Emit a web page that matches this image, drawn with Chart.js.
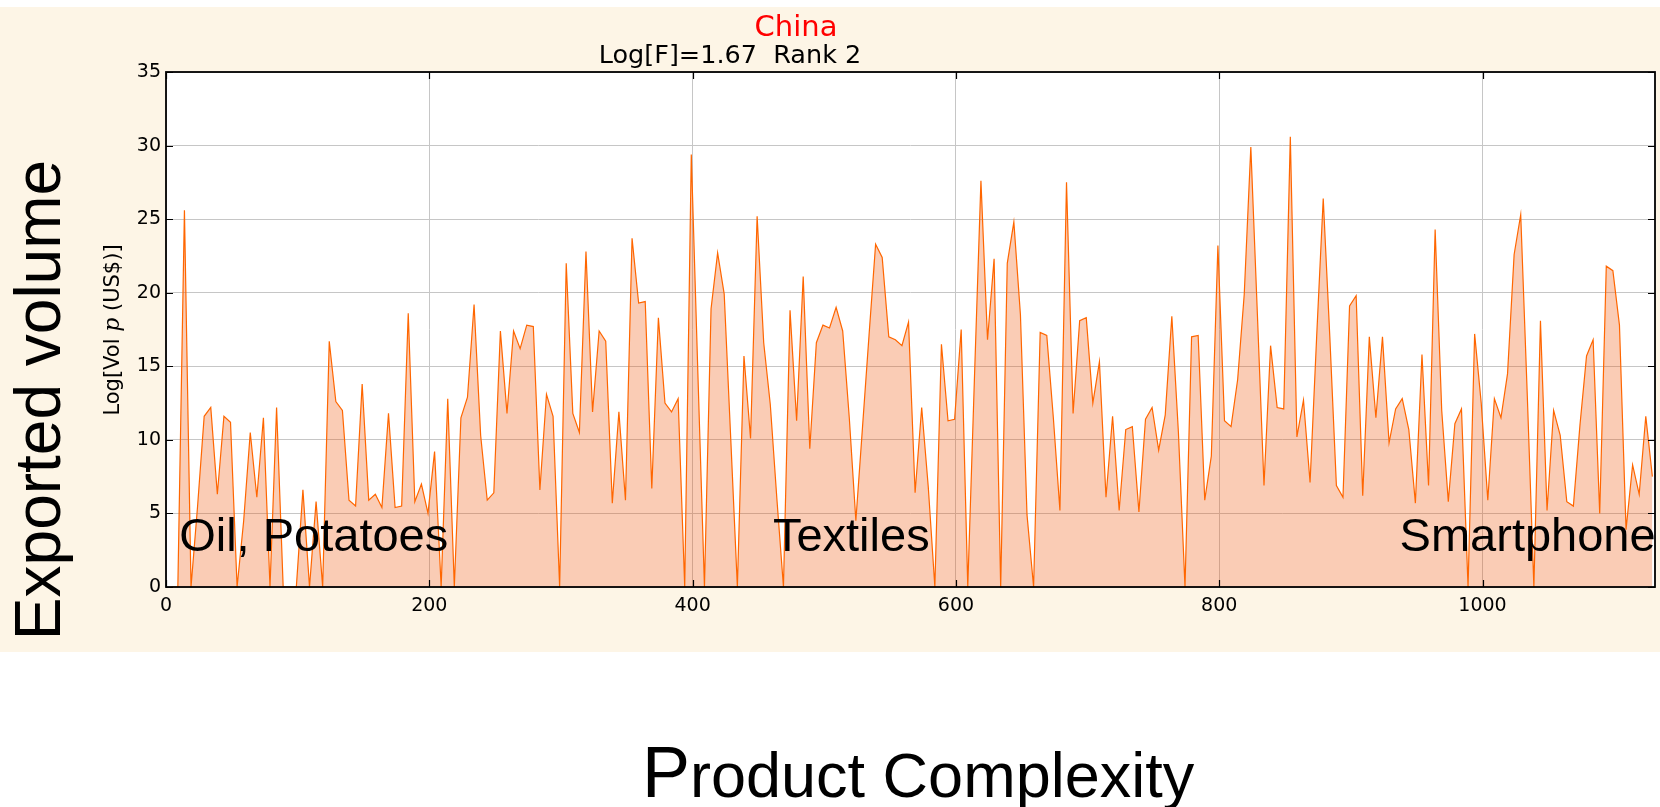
<!DOCTYPE html>
<html>
<head>
<meta charset="utf-8">
<script src="https://cdn.jsdelivr.net/npm/chart.js@4/dist/chart.umd.min.js"></script>
<style>
  html, body { margin: 0; padding: 0; background: #ffffff; }
  #wrap { width: 1660px; height: 807px; position: relative; }
  canvas { display: block; }
</style>
</head>
<body>
<div id="wrap"><canvas id="chart" width="1660" height="807"></canvas></div>
<script>
// Product complexity rank of each bin (x) and log export volume (y)
const complexity = [
  4, 9, 14, 19, 24, 29, 34, 39, 44, 49,
  54, 59, 64, 69, 74, 79, 84, 89, 94, 99,
  104, 109, 114, 119, 124, 129, 134, 139, 144, 149,
  154, 159, 164, 169, 174, 179, 184, 189, 194, 199,
  204, 209, 214, 219, 224, 229, 234, 239, 244, 249,
  254, 259, 264, 269, 274, 279, 284, 289, 294, 299,
  304, 309, 314, 319, 324, 329, 334, 339, 344, 349,
  354, 359, 364, 369, 374, 379, 384, 389, 394, 399,
  404, 409, 414, 419, 424, 429, 434, 439, 444, 449,
  454, 459, 464, 469, 474, 479, 484, 489, 494, 499,
  504, 509, 514, 519, 524, 529, 534, 539, 544, 549,
  554, 559, 564, 569, 574, 579, 584, 589, 594, 599,
  604, 609, 614, 619, 624, 629, 634, 639, 644, 649,
  654, 659, 664, 669, 674, 679, 684, 689, 694, 699,
  704, 709, 714, 719, 724, 729, 734, 739, 744, 749,
  754, 759, 764, 769, 774, 779, 784, 789, 794, 799,
  804, 809, 814, 819, 824, 829, 834, 839, 844, 849,
  854, 859, 864, 869, 874, 879, 884, 889, 894, 899,
  904, 909, 914, 919, 924, 929, 934, 939, 944, 949,
  954, 959, 964, 969, 974, 979, 984, 989, 994, 999,
  1004, 1009, 1014, 1019, 1024, 1029, 1034, 1039, 1044, 1049,
  1054, 1059, 1064, 1069, 1074, 1079, 1084, 1089, 1094, 1099,
  1104, 1109, 1114, 1119, 1124, 1129
];

const logVolume = [
  0, 0, 25.6, 0, 5.5, 11.6, 12.2, 6.3, 11.6, 11.2,
  0, 4.5, 10.5, 6.1, 11.5, 0, 12.2, 0, 0, 0,
  6.6, 0, 5.8, 0, 16.7, 12.6, 12.0, 5.9, 5.5, 13.8,
  5.9, 6.3, 5.4, 11.8, 5.4, 5.5, 18.6, 5.8, 7.0, 5.0,
  9.2, 0, 12.8, 0, 11.5, 12.9, 19.2, 10.3, 5.9, 6.4,
  17.4, 11.8, 17.4, 16.2, 17.8, 17.7, 6.6, 13.1, 11.6, 0,
  22.0, 11.8, 10.5, 22.8, 11.9, 17.4, 16.7, 5.7, 11.9, 5.9,
  23.7, 19.3, 19.4, 6.7, 18.3, 12.5, 11.9, 12.8, 0, 29.4,
  14.5, 0, 18.9, 22.7, 19.9, 10.0, 0, 15.7, 10.1, 25.2,
  16.6, 12.4, 6.0, 0, 18.8, 11.3, 21.1, 9.4, 16.6, 17.8,
  17.6, 19.0, 17.4, 11.5, 4.5, 10.8, 17.1, 23.3, 22.4, 17.0,
  16.8, 16.4, 18.0, 6.4, 12.2, 6.8, 0, 16.5, 11.3, 11.4,
  17.5, 0, 14.0, 27.6, 16.8, 22.3, 0, 22.0, 24.8, 18.5,
  4.9, 0, 17.3, 17.1, 11.5, 5.2, 27.5, 11.8, 18.1, 18.3,
  12.5, 15.3, 6.1, 11.6, 5.2, 10.7, 10.9, 5.1, 11.4, 12.2,
  9.3, 11.7, 18.4, 10.5, 0, 17.0, 17.1, 5.9, 8.9, 23.2,
  11.3, 10.9, 14.1, 19.9, 29.9, 18.5, 6.9, 16.4, 12.2, 12.1,
  30.6, 10.2, 12.7, 7.1, 17.0, 26.4, 17.0, 6.9, 6.1, 19.1,
  19.8, 6.2, 17.0, 11.5, 17.0, 9.8, 12.1, 12.8, 10.7, 5.7,
  15.8, 6.9, 24.3, 12.0, 5.8, 11.1, 12.1, 0, 17.2, 12.5,
  5.9, 12.8, 11.5, 14.5, 22.6, 25.3, 13.0, 0, 18.1, 5.2,
  12.0, 10.3, 5.8, 5.5, 11.0, 15.7, 16.8, 5.0, 21.8, 21.5,
  17.8, 3.9, 8.3, 6.3, 11.6, 7.5
];

const xTickValues = [0, 200, 400, 600, 800, 1000];
const yTickValues = [0, 5, 10, 15, 20, 25, 30, 35];

const countryName = 'China';
const fitnessLine = 'Log[F]=1.67  Rank 2';
const sectorLabels = ['Oil, Potatoes', 'Textiles', 'Smartphone'];
const sectorAnchors = [10, 461, 937];   // complexity value where each label starts

const LINE_COLOR = 'rgb(255, 102, 0)';
const FILL_COLOR = 'rgba(240, 86, 10, 0.3)';
const GRID_COLOR = '#c6c6c6';
const PAPER = '#fdf5e6';

// Backgrounds, frame, inward tick marks and all free text
const decorations = {
  id: 'decorations',
  beforeDraw(chart) {
    const { ctx, chartArea: a } = chart;
    ctx.save();
    ctx.fillStyle = '#ffffff';
    ctx.fillRect(0, 0, chart.width, chart.height);
    ctx.fillStyle = PAPER;
    ctx.fillRect(0, 7, chart.width, 645);
    ctx.fillStyle = '#ffffff';
    ctx.fillRect(a.left, a.top, a.right - a.left, a.bottom - a.top);
    ctx.restore();
  },
  afterDraw(chart) {
    const { ctx, chartArea: a, scales } = chart;
    ctx.save();

    // sector annotations inside the plot
    ctx.fillStyle = '#000';
    ctx.font = '47px "Liberation Sans", Arial, sans-serif';
    ctx.textBaseline = 'alphabetic';
    ctx.textAlign = 'left';
    sectorLabels.forEach((txt, i) => {
      ctx.fillText(txt, scales.x.getPixelForValue(sectorAnchors[i]), 551);
    });

    // inward tick marks on all four sides
    ctx.strokeStyle = '#000';
    ctx.lineWidth = 1.2;
    const tl = 7;
    ctx.beginPath();
    yTickValues.forEach(v => {
      const py = Math.round(scales.y.getPixelForValue(v)) + 0.5;
      ctx.moveTo(a.left, py); ctx.lineTo(a.left + tl, py);
      ctx.moveTo(a.right, py); ctx.lineTo(a.right - tl, py);
    });
    xTickValues.forEach(v => {
      const px = Math.round(scales.x.getPixelForValue(v)) + 0.5;
      ctx.moveTo(px, a.bottom); ctx.lineTo(px, a.bottom - tl);
      ctx.moveTo(px, a.top); ctx.lineTo(px, a.top + tl);
    });
    ctx.stroke();

    // axes frame
    ctx.lineWidth = 1.8;
    ctx.strokeRect(a.left, a.top, a.right - a.left, a.bottom - a.top);

    // titles
    ctx.textAlign = 'center';
    ctx.fillStyle = '#ff0000';
    ctx.font = '29px "DejaVu Sans", sans-serif';
    ctx.fillText(countryName, 796, 36);
    ctx.fillStyle = '#000';
    ctx.font = '25.5px "DejaVu Sans", sans-serif';
    ctx.fillText(fitnessLine, 730, 63);

    // y axis unit label, with the math-italic p
    ctx.save();
    ctx.translate(119, 330);
    ctx.rotate(-Math.PI / 2);
    const f1 = '21px "DejaVu Sans", sans-serif';
    const f2 = 'italic 22px "DejaVu Serif", serif';
    const parts = [['Log[Vol ', f1], ['p', f2], [' (US$)]', f1]];
    let total = 0;
    parts.forEach(p => { ctx.font = p[1]; total += ctx.measureText(p[0]).width; });
    let cx = -total / 2;
    ctx.textAlign = 'left';
    parts.forEach(p => { ctx.font = p[1]; ctx.fillText(p[0], cx, 0); cx += ctx.measureText(p[0]).width; });
    ctx.restore();

    // large outer axis titles
    ctx.save();
    ctx.translate(60, 400);
    ctx.rotate(-Math.PI / 2);
    ctx.textAlign = 'center';
    ctx.font = '64px "Liberation Sans", Arial, sans-serif';
    ctx.fillText('Exported volume', 0, 0);
    ctx.restore();

    ctx.textAlign = 'left';
    ctx.font = '72px "Liberation Sans", Arial, sans-serif';
    ctx.fillText('P', 642, 797);
    const pw = ctx.measureText('P').width;
    ctx.font = '63px "Liberation Sans", Arial, sans-serif';
    ctx.fillText('roduct Complexity', 642 + pw, 797);

    ctx.restore();
  }
};

new Chart(document.getElementById('chart').getContext('2d'), {
  type: 'line',
  data: {
    datasets: [{
      data: complexity.map((x, i) => ({ x: x, y: logVolume[i] })),
      borderColor: LINE_COLOR,
      borderWidth: 1.2,
      backgroundColor: FILL_COLOR,
      fill: 'origin',
      pointRadius: 0,
      tension: 0
    }]
  },
  options: {
    responsive: false,
    animation: false,
    devicePixelRatio: 1,
    layout: { padding: { left: 0, right: 5, top: 72, bottom: 180 } },
    plugins: { legend: { display: false }, tooltip: { enabled: false } },
    scales: {
      x: {
        type: 'linear',
        min: 0,
        max: 1131,
        afterBuildTicks: s => { s.ticks = xTickValues.map(v => ({ value: v })); },
        afterFit: s => { s.height = 40; },
        grid: { color: GRID_COLOR, lineWidth: 1, drawTicks: false },
        border: { display: false },
        ticks: {
          color: '#000',
          font: { family: 'DejaVu Sans', size: 19 },
          padding: 8,
          maxRotation: 0,
          autoSkip: false,
          callback: v => String(v)
        }
      },
      y: {
        min: 0,
        max: 35,
        afterBuildTicks: s => { s.ticks = yTickValues.map(v => ({ value: v })); },
        afterFit: s => { s.width = 166; },
        grid: { color: GRID_COLOR, lineWidth: 1, drawTicks: false },
        border: { display: false },
        ticks: {
          color: '#000',
          font: { family: 'DejaVu Sans', size: 19 },
          padding: 5,
          callback: v => String(v)
        }
      }
    }
  },
  plugins: [decorations]
});
</script>
</body>
</html>
